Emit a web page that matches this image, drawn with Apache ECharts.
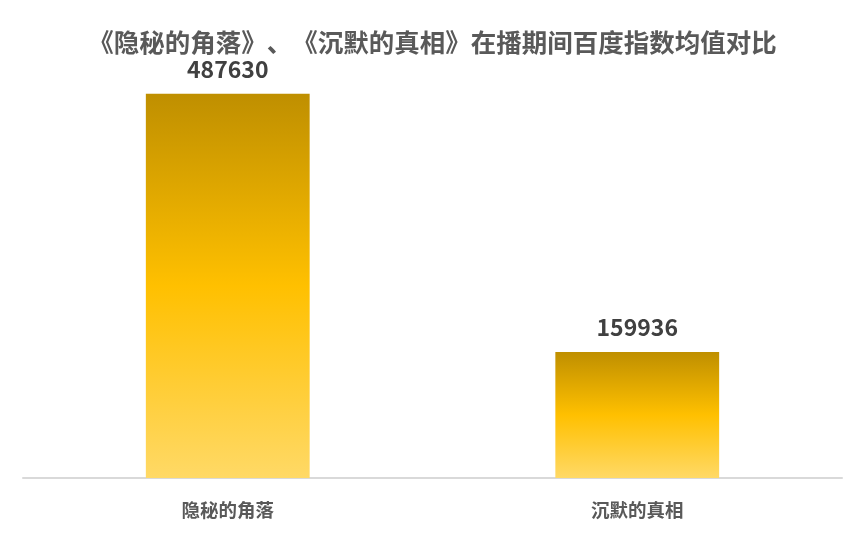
<!DOCTYPE html>
<html>
<head>
<meta charset="utf-8">
<script src="https://cdn.jsdelivr.net/npm/echarts@6/dist/echarts.min.js"></script>
<style>
  html, body { margin: 0; padding: 0; background: #fff; }
  #chart { width: 865px; height: 538px; }
</style>
</head>
<body>
<div id="chart"></div>
<script>
// title pieces kept apart so the browser does not squeeze 》、《 together
var title_parts = ['《隐秘的角落》', '、', '《沉默的真相》在播期间百度指数均值对比'];
var shows = ['隐秘的角落', '沉默的真相'];
var avg_index = [487630, 159936];

function draw_bar_chart() {
  var bar_chart = echarts.init(document.getElementById('chart'));
  var font = '"Microsoft YaHei", "Noto Sans CJK SC", sans-serif';
  var title_style = {
    fontFamily: font,
    fontSize: 25.5,
    fontWeight: 'bold',
    color: '#595959'
  };

  var option = {
    animation: false,
    title: {
      text: title_parts.map(function (d) {
        return '{t|' + d + '}';
      }).join(''),
      left: 'center',
      top: 25,
      textStyle: {
        fontFamily: font,
        fontSize: 25.5,
        fontWeight: 'bold',
        color: '#595959',
        rich: { t: title_style }
      }
    },
    grid: {
      left: 23,
      right: 23,
      top: 84,
      bottom: 60
    },
    xAxis: {
      type: 'category',
      data: shows,
      axisTick: { show: false },
      axisLine: { lineStyle: { color: '#d9d9d9', width: 2 } },
      axisLabel: {
        margin: 23,
        fontFamily: font,
        fontSize: 18.5,
        fontWeight: 'bold',
        color: '#595959'
      }
    },
    yAxis: {
      type: 'value',
      min: 0,
      max: 500000,
      show: false
    },
    series: [{
      type: 'bar',
      data: avg_index,
      barWidth: '40%',
      itemStyle: {
        color: new echarts.graphic.LinearGradient(0, 0, 0, 1, [
          { offset: 0, color: '#bf8f00' },
          { offset: 0.5, color: '#ffc000' },
          { offset: 1, color: '#ffd966' }
        ])
      },
      label: {
        show: true,
        position: 'top',
        distance: 13,
        fontFamily: font,
        fontSize: 23,
        fontWeight: 'bold',
        color: '#404040'
      }
    }]
  };

  bar_chart.setOption(option);
  window.addEventListener('resize', function () {
    bar_chart.resize();
  });
}

draw_bar_chart();
</script>
</body>
</html>
